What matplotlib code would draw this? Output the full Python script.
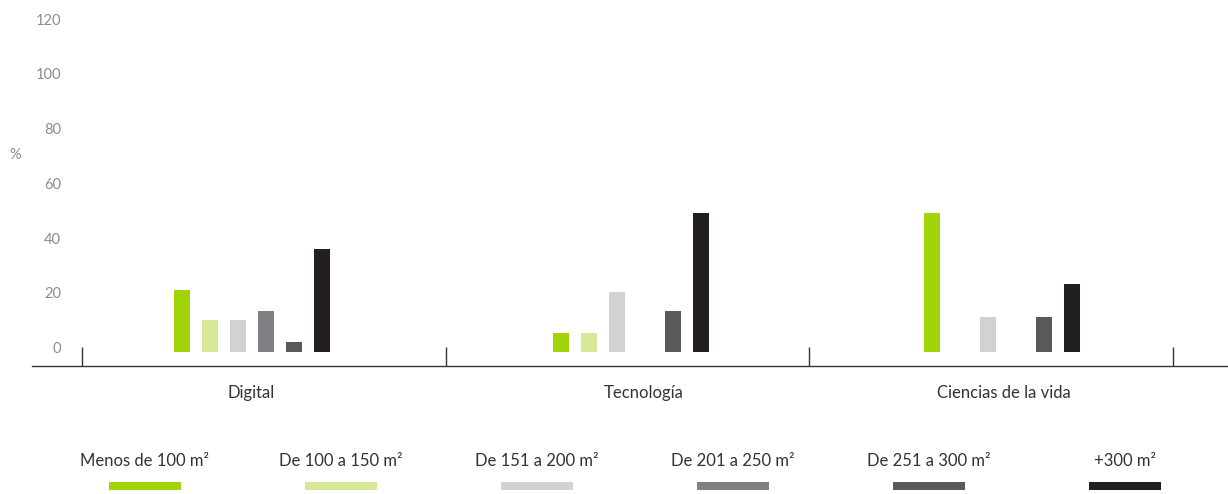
import matplotlib.pyplot as plt
import matplotlib.transforms as mtransforms
import numpy as np

plt.rcParams["font.family"] = ["Lato", "DejaVu Sans"]

CATEGORIES = ["Digital", "Tecnología", "Ciencias de la vida"]
SERIES = ["Menos de 100 m²", "De 100 a 150 m²", "De 151 a 200 m²",
          "De 201 a 250 m²", "De 251 a 300 m²", "+300 m²"]
COLORS = ["#a2d40a", "#d8e996", "#d1d2d4", "#808184", "#58595b", "#231f20"]

# % share per category, one list per surface band
MENOS_100 = [23, 7, 51]
DE_100_150 = [12, 7, 0]
DE_151_200 = [12, 22, 13]
DE_201_250 = [15, 0, 0]
DE_251_300 = [4, 15, 13]
MAS_300 = [38, 51, 25]
VALUES = [MENOS_100, DE_100_150, DE_151_200, DE_201_250, DE_251_300, MAS_300]

Y_TICKS = [0, 20, 40, 60, 80, 100, 120]

W, H = 1228, 494
fig = plt.figure(figsize=(W / 100, H / 100), dpi=100)
ax = fig.add_axes([32 / W, 1 - 366 / H, 1 - 32 / W, (366 - 10) / H])

# group centres and label centres sit a touch off the slot middles
group_x = np.array([-0.032, 1.010, 2.030])
label_x = np.array([-0.034, 1.046, 2.036])
step = 0.077
width = 0.044
for i, (vals, color) in enumerate(zip(VALUES, COLORS)):
    heights = np.array(vals, dtype=float)
    mask = heights > 0
    ax.bar(group_x[mask] + (i - 2.5) * step, heights[mask], width=width,
           color=color, linewidth=0)

ax.set_xlim(-0.637, 2.651)
ax.set_ylim(-4.94, 125.2)

for side in ["top", "right", "left"]:
    ax.spines[side].set_visible(False)
ax.spines["bottom"].set_color("#333333")
ax.spines["bottom"].set_linewidth(1.0)

# y ticks: labels only, nudged up a little
ax.set_yticks(Y_TICKS)
ax.set_yticklabels([str(t) for t in Y_TICKS])
ax.tick_params(axis="y", length=0, pad=-21, labelsize=10.5, labelcolor="#8c8c8c")
shift = mtransforms.ScaledTranslation(0, 5 / 100, fig.dpi_scale_trans)
for lbl in ax.get_yticklabels():
    lbl.set_horizontalalignment("right")
    lbl.set_transform(lbl.get_transform() + shift)

# category labels, boundary ticks pointing in
ax.set_xticks(label_x)
ax.set_xticklabels(CATEGORIES)
ax.tick_params(axis="x", which="major", length=0, pad=14, labelsize=12, labelcolor="#333333")
ax.set_xticks(np.arange(-0.5, len(CATEGORIES) + 0.5, 1), minor=True)
ax.tick_params(axis="x", which="minor", direction="in", length=13.7, width=1.0, color="#333333")

fig.text(15 / W, 1 - 155 / H, "%", ha="center", va="center", fontsize=10.5, color="#8c8c8c")

# legend row: label on top, colour swatch below
lax = fig.add_axes([47 / W, 0, (1223 - 47) / W, 60 / H])
lax.set_xlim(0, len(SERIES))
lax.set_ylim(0, 60)
lax.axis("off")
for i, (name, color) in enumerate(zip(SERIES, COLORS)):
    lax.bar(i + 0.5, 8, bottom=4, width=72 / 196, color=color, linewidth=0)
    lax.text(i + 0.5, 33, name, ha="center", va="center", fontsize=12, color="#333333")

fig.savefig("out.png", dpi=100)
